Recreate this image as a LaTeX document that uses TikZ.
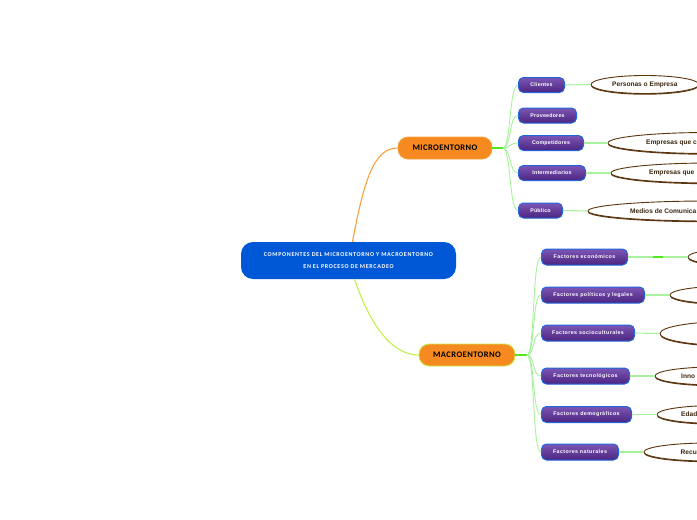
\documentclass[tikz,border=0pt]{standalone}
\usepackage{fontspec}
\setmainfont{Liberation Sans}
\newfontfamily\carl[LetterSpace=5]{Carlito}
\newfontfamily\carlr[LetterSpace=11]{Carlito}
\newfontfamily\spc[LetterSpace=8]{Liberation Sans}
\newfontfamily\spcm[LetterSpace=4]{Liberation Sans}
\usetikzlibrary{shapes.geometric,shadows}
\definecolor{rootblue}{HTML}{0058D6}
\definecolor{orangeN}{HTML}{F6891F}
\definecolor{orangeL}{HTML}{F9A23C}
\definecolor{limeL}{HTML}{C2F24A}
\definecolor{purT}{HTML}{7D55B4}
\definecolor{purB}{HTML}{4B2580}
\definecolor{purD}{HTML}{1F66DE}
\definecolor{leafG}{HTML}{A8F29C}
\definecolor{hubG}{HTML}{4EEA1E}
\definecolor{ebrown}{HTML}{5A3510}
\definecolor{etxt}{HTML}{3A2610}
\tikzset{
  rootnode/.style={rounded corners=12pt, fill=rootblue, minimum width=215pt, minimum height=37pt,
    text=white, align=center, inner sep=0pt, font=\carlr\bfseries\fontsize{6}{12}\selectfont},
  mainnode/.style={rounded corners=10pt, fill=orangeN, minimum height=22pt, inner sep=0pt,
    line width=0.8pt, font=\carl\bfseries\fontsize{8.5}{10}\selectfont},
  child/.style={rounded corners=5pt, top color=purT, bottom color=purB, draw=purD, line width=1pt,
    minimum height=15pt, inner sep=0pt, text=white, anchor=west},
  mchild/.style={child, font=\spcm\bfseries\fontsize{5.3}{6}\selectfont},
  Mchild/.style={child, minimum height=16pt, font=\spc\bfseries\fontsize{5.3}{6}\selectfont},
  eli/.style={ellipse, draw=ebrown, line width=0.9pt, fill=white, inner sep=0pt,
    drop shadow={shadow xshift=0pt, shadow yshift=-1.2pt, fill=ebrown, opacity=1}},
  etext/.style={anchor=west, inner sep=0pt, text=etxt, font=\bfseries\fontsize{6.6}{8}\selectfont},
  leaf/.style={leafG, line width=1.1pt},
  branch/.style={leafG, line width=0.9pt},
  hub/.style={hubG, line width=2pt},
}
\begin{document}
\begin{tikzpicture}[x=1pt,y=-1pt]
\useasboundingbox (0,0) rectangle (697,520);
\fill[white] (0,0) rectangle (697,520);
\clip (0,0) rectangle (697,520);

% root and main branches
\node[rootnode] (root) at (348.5,260.5) {COMPONENTES DEL MICROENTORNO Y MACROENTORNO\\EN EL PROCESO DE MERCADEO};
\node[mainnode, draw=orangeL, minimum width=94pt] (micro) at (445,148) {MICROENTORNO};
\node[mainnode, draw=limeL, minimum width=96pt] (macro) at (467,355) {MACROENTORNO};

\draw[orangeL, line width=1.1pt] ([xshift=4pt]root.north) .. controls (364,180) and (374,148) .. (micro.west);
\draw[limeL, line width=1.1pt] ([xshift=6pt]root.south) .. controls (370,325) and (392,355) .. (macro.west);

% micro children
\node[mchild, minimum width=46pt] (c1) at (518,85) {Clientes};
\node[mchild, minimum width=58pt] (c2) at (518,115.5) {Proveedores};
\node[mchild, minimum width=65pt] (c3) at (518,143) {Competidores};
\node[mchild, minimum width=67pt] (c4) at (518,173) {Intermediarios};
\node[mchild, minimum width=44pt] (c5) at (518,210.5) {Público};

\coordinate (mj) at (503,148);
\draw[hub] (micro.east) -- (mj);
\foreach \c in {c1,c2,c3,c4,c5}{
  \draw[branch] (mj) .. controls +(8,0) and +(-9,0) .. (\c.west);
}

% micro ellipses
\node[eli, minimum width=108pt, minimum height=18pt] (e1) at (645,84.5) {};
\node[etext] (t1) at (612,84.5) {Personas o Empresa};
\node[eli, minimum width=200pt, minimum height=21pt] (e3) at (708,143) {};
\node[etext] (t3) at (646,143) {Empresas que c};
\node[eli, minimum width=200pt, minimum height=20pt] (e4) at (711,173) {};
\node[etext] (t4) at (649,173) {Empresas que};
\node[eli, minimum width=240pt, minimum height=20pt] (e5) at (708,211) {};
\node[etext] (t5) at (630,211) {Medios de Comunica};

\draw[leaf] (c1.east) -- (e1.west);
\draw[leaf] (c3.east) -- (e3.west);
\draw[leaf] (c4.east) -- (e4.west);
\draw[leaf] (c5.east) -- (e5.west);

% macro children
\node[Mchild, minimum width=86pt] (f1) at (541,257) {Factores económicos};
\node[Mchild, minimum width=103pt] (f2) at (541,295) {Factores políticos y legales};
\node[Mchild, minimum width=93pt] (f3) at (541,333) {Factores socioculturales};
\node[Mchild, minimum width=88pt] (f4) at (541,376) {Factores tecnológicos};
\node[Mchild, minimum width=90pt] (f5) at (541,414.5) {Factores demográficos};
\node[Mchild, minimum width=77pt] (f6) at (541,452) {Factores naturales};

\coordinate (Mj) at (527,355);
\draw[hub] (macro.east) -- (Mj);
\foreach \c in {f1,f2,f3,f4,f5,f6}{
  \draw[branch] (Mj) .. controls +(8,0) and +(-9,0) .. (\c.west);
}

% macro ellipses
\node[eli, minimum width=120pt, minimum height=18pt] (g1) at (748,257) {};
\node[eli, minimum width=120pt, minimum height=18pt] (g2) at (730,295) {};
\node[eli, minimum width=140pt, minimum height=24pt] (g3) at (730,333.5) {};
\node[eli, minimum width=120pt, minimum height=18pt] (g4) at (715,376) {};
\node[etext] (u4) at (681,376) {Inno};
\node[eli, minimum width=120pt, minimum height=18pt] (g5) at (717,414.5) {};
\node[etext] (u5) at (681,414.5) {Edad};
\node[eli, minimum width=130pt, minimum height=18pt] (g6) at (709,452) {};
\node[etext] (u6) at (680.5,452) {Recu};

\draw[leaf] (f1.east) -- (g1.west);
\coordinate (d1) at (653,257);
\coordinate (d2) at (663,257);
\draw[hubG, line width=2pt] (d1) -- (d2);
\draw[leaf] (f2.east) -- (g2.west);
\draw[leaf] (f3.east) -- (g3.west);
\draw[leaf] (f4.east) -- (g4.west);
\draw[leaf] (f5.east) -- (g5.west);
\draw[leaf] (f6.east) -- (g6.west);
\end{tikzpicture}
\end{document}
